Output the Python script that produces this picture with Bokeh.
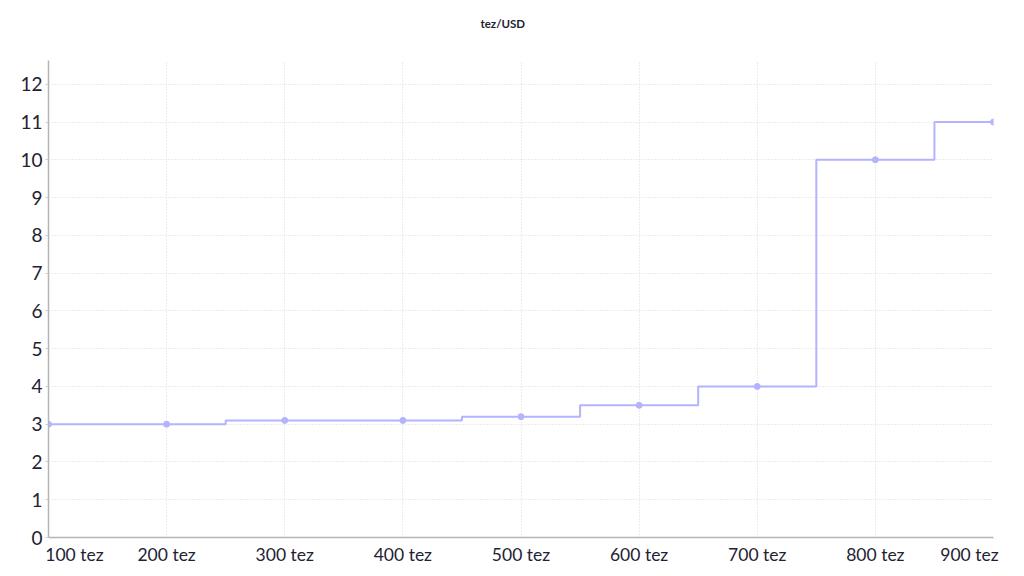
from bokeh.plotting import figure
from bokeh.models import Range1d, FixedTicker, Title
from bokeh.embed import file_html
from bokeh.resources import INLINE

amounts = [100, 200, 300, 400, 500, 600, 700, 800, 900]
tick_labels = ["100 tez", "200 tez", "300 tez", "400 tez", "500 tez",
               "600 tez", "700 tez", "800 tez", "900 tez"]
usd = [3.0, 3.0, 3.1, 3.1, 3.2, 3.5, 4.0, 10.0, 11.0]
y_ticks = list(range(0, 13))
chart_title = "tez/USD"

FONT = "Lato"
TXT = "#1e2233"
LINE = "#b3b3ff"
NBSP = "\u00a0"

p = figure(width=1016, height=568, output_backend="svg", toolbar_location=None,
           x_range=Range1d(amounts[0], amounts[-1]), y_range=Range1d(0, 12.63),
           min_border_left=48, min_border_right=23, min_border_top=60, min_border_bottom=31)
p.title.text = chart_title
p.title.align = "left"
p.title.offset = 432
p.title.text_font = FONT
p.title.text_font_size = "11.5px"
p.title.text_font_style = "bold"
p.title.text_color = TXT
p.title.standoff = 0

# spacer next to the frame (pushes the real title upwards)
p.add_layout(Title(text=NBSP, text_font_size="1px", standoff=28), "above")

p.outline_line_color = None
p.background_fill_color = "white"

p.step(amounts, usd, mode="center", line_color=LINE, line_width=2)
p.scatter(amounts, usd, size=6, fill_color=LINE, line_color=LINE)

overrides = {a: t for a, t in zip(amounts, tick_labels)}
# keep the edge labels inside the chart, as in the reference
overrides[amounts[0]] = NBSP * 10 + tick_labels[0]
overrides[amounts[-1]] = tick_labels[-1] + NBSP * 4
p.xaxis.ticker = FixedTicker(ticks=amounts)
p.xaxis.major_label_overrides = overrides
p.yaxis.ticker = FixedTicker(ticks=y_ticks)

for ax in (p.xaxis, p.yaxis):
    ax.axis_line_color = "#b5b5b5"
    ax.axis_line_width = 1.5
    ax.major_label_text_font = FONT
    ax.major_label_text_color = TXT
    ax.minor_tick_line_color = None
p.xaxis.major_label_text_font_size = "17.5px"
p.yaxis.major_label_text_font_size = "19px"
p.xaxis.major_tick_line_color = None
p.xaxis.major_label_standoff = 0
p.yaxis.major_tick_line_color = "#cccccc"
p.yaxis.major_tick_in = 0
p.yaxis.major_tick_out = 3
p.yaxis.major_label_standoff = 3

for g in (p.xgrid, p.ygrid):
    g.grid_line_color = "#d8d8d8"
    g.grid_line_dash = "1 2"
    g.grid_line_width = 1

open("out.html", "w").write(file_html(p, INLINE))
